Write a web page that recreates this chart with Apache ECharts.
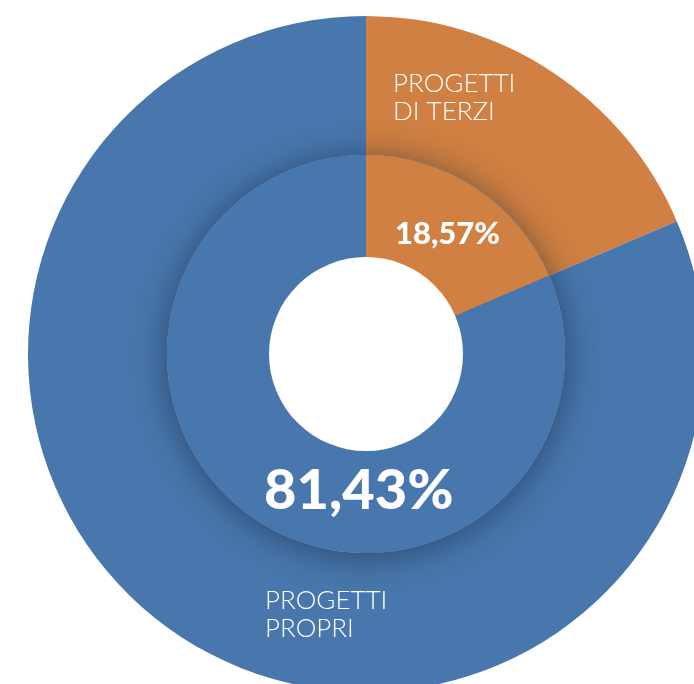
<!DOCTYPE html>
<html>
<head>
<meta charset="utf-8">
<script src="https://cdn.jsdelivr.net/npm/echarts@6/dist/echarts.min.js"></script>
<style>
  html, body { margin: 0; padding: 0; background: #fff; }
  #main { width: 694px; height: 684px; }
</style>
</head>
<body>
<div id="main"></div>
<script>
var categories = ['PROGETTI\nDI TERZI', 'PROGETTI\nPROPRI'];
var values = [18.57, 81.43];
var colors = ['#CF8042', '#4877AD'];

(function(){
    var myChart = echarts.init(document.getElementById('main'));

    var center = [366, 354];
    var pieData = categories.map(function (name, i) {
        return { name: name, value: values[i], itemStyle: { color: colors[i] } };
    });
    function pct(v) {
        return v.toFixed(2).replace('.', ',') + '%';
    }

    var option = {
        animation: false,
        series: [{
            // outer ring
            type: 'pie',
            center: center,
            radius: [199, 338],
            startAngle: 90,
            silent: true,
            label: { show: false },
            labelLine: { show: false },
            data: pieData
        }, {
            // shadow disc under the inner ring
            type: 'pie',
            center: center,
            radius: [0, 199],
            silent: true,
            label: { show: false },
            itemStyle: {
                color: '#4877AD',
                shadowBlur: 34,
                shadowColor: 'rgba(15,25,45,0.5)',
                shadowOffsetY: 3
            },
            data: [{ value: 1 }]
        }, {
            // inner ring
            type: 'pie',
            center: center,
            radius: [0, 199],
            startAngle: 90,
            silent: true,
            label: { show: false },
            labelLine: { show: false },
            data: pieData
        }, {
            // hole
            type: 'pie',
            center: center,
            radius: [0, 97],
            silent: true,
            label: { show: false },
            itemStyle: { color: '#ffffff' },
            data: [{ value: 1 }]
        }],
        graphic: [{
            type: 'text', left: 393, top: 70, z: 100,
            style: { text: categories[0], fill: '#fff', font: '300 26px Lato', lineHeight: 28 }
        }, {
            type: 'text', left: 395, top: 218, z: 100,
            style: { text: pct(values[0]), fill: '#fff', font: '900 31px Lato' }
        }, {
            type: 'text', left: 264, top: 463, z: 100,
            style: { text: pct(values[1]), fill: '#fff', font: '900 56px Lato' }
        }, {
            type: 'text', left: 265, top: 587, z: 100,
            style: { text: categories[1], fill: '#fff', font: '300 26px Lato', lineHeight: 28 }
        }]
    };

    myChart.setOption(option);
})()
</script>
</body>
</html>
